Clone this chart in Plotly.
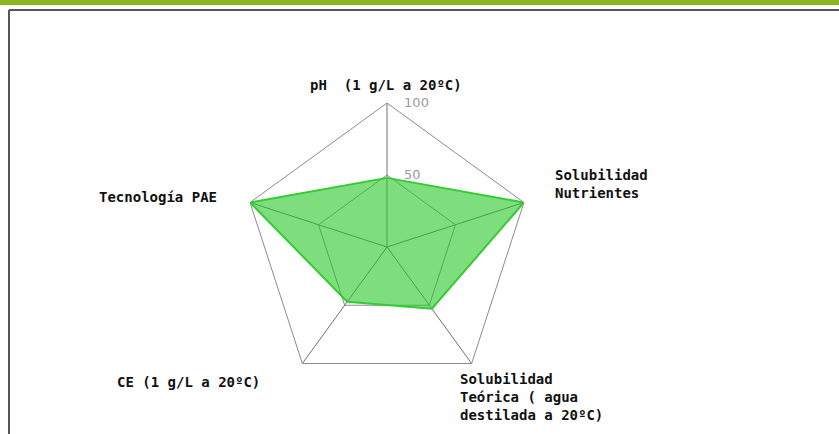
import plotly.graph_objects as go

categories = ["pH  (1 g/L a 20ºC)", "Solubilidad Nutrientes", "Solubilidad Teórica ( agua destilada a 20ºC)",
              "CE (1 g/L a 20ºC)", "Tecnología PAE"]
values = [48, 100, 53, 47, 100]
radial_ticks = [50, 100]
radial_ticktext = ["50", "100"]

W, H = 839, 434
cx, cy, R = 387, 247, 144

fig = go.Figure()
fig.add_trace(go.Scatterpolar(
    r=values + [values[0]],
    theta=categories + [categories[0]],
    mode="lines",
    fill="toself",
    fillcolor="rgba(40,200,40,0.6)",
    line=dict(color="#33cc33", width=2),
    hoverinfo="skip",
))

fig.update_layout(
    width=W, height=H,
    margin=dict(l=0, r=0, t=0, b=0),
    paper_bgcolor="white",
    showlegend=False,
    polar=dict(
        domain=dict(x=[(cx - R) / W, (cx + R) / W], y=[(H - cy - R) / H, (H - cy + R) / H]),
        bgcolor="rgba(0,0,0,0)",
        gridshape="linear",
        radialaxis=dict(range=[0, 100], tickvals=radial_ticks, ticktext=radial_ticktext,
                        angle=90, tickangle=90, showline=False,
                        ticks="outside", ticklen=14, tickcolor="rgba(0,0,0,0)",
                        gridcolor="#8c8c8c", gridwidth=1,
                        tickfont=dict(family="DejaVu Sans", size=13, color="#9a9a9a")),
        angularaxis=dict(rotation=90, direction="clockwise", showticklabels=False, ticks="",
                         showline=True, linecolor="#8c8c8c", linewidth=1,
                         gridcolor="#707070", gridwidth=1),
    ),
)

font = dict(family="DejaVu Sans Mono", size=14, color="#111111")
labels = [
    ("<b>pH  (1 g/L a 20ºC)</b>", 386, 85, "center", "middle"),
    ("<b>Solubilidad<br>Nutrientes</b>", 553, 184, "left", "middle"),
    ("<b>Tecnología PAE</b>", 219, 197, "right", "middle"),
    ("<b>CE (1 g/L a 20ºC)</b>", 115, 382, "left", "middle"),
    ("<b>Solubilidad<br>Teórica ( agua<br>destilada a 20ºC)</b>", 458, 397, "left", "middle"),
]
for text, x, y, xa, ya in labels:
    fig.add_annotation(text=text, x=x / W, y=1 - y / H, xref="paper", yref="paper",
                       xanchor=xa, yanchor=ya, align="left", showarrow=False, font=font)

# page decorations: green bar and frame
fig.add_shape(type="rect", xref="paper", yref="paper", x0=0, x1=1, y0=1 - 5 / H, y1=1,
              fillcolor="#8ab51e", line=dict(width=0), layer="above")
fig.add_shape(type="line", xref="paper", yref="paper", x0=9 / W, x1=1, y0=1 - 10 / H, y1=1 - 10 / H,
              line=dict(color="#555555", width=2))
fig.add_shape(type="line", xref="paper", yref="paper", x0=9 / W, x1=9 / W, y0=0, y1=1 - 10 / H,
              line=dict(color="#555555", width=2))

fig.write_html("out.html", config={"displayModeBar": False},
               post_script="document.body.style.margin='0';document.body.style.overflow='hidden';")
